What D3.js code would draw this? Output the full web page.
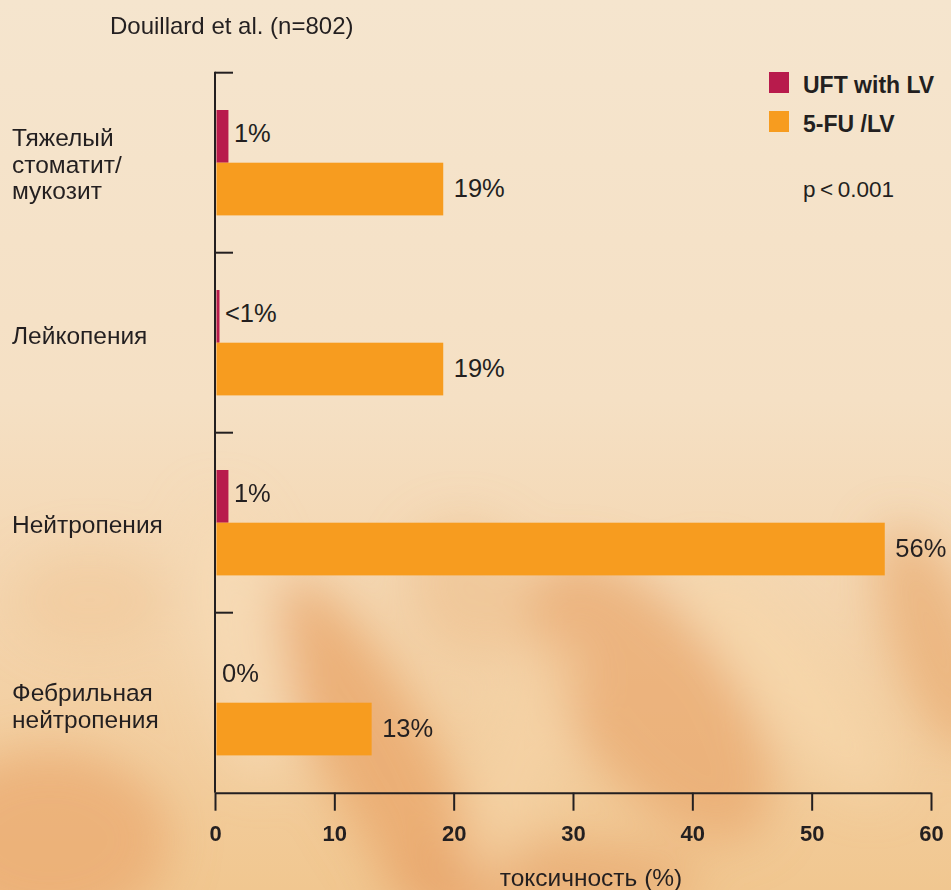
<!DOCTYPE html>
<html>
<head>
<meta charset="utf-8">
<script src="https://cdn.jsdelivr.net/npm/d3@7"></script>
<style>
  body { margin: 0; padding: 0; overflow: hidden; }
  svg { display: block; font-family: "Liberation Sans", Arial, sans-serif; }
</style>
</head>
<body>
<div id="chart"></div>
<script>
const width = 951, height = 890;

// data
const categories = ["Тяжелый стоматит/ мукозит", "Лейкопения", "Нейтропения", "Фебрильная нейтропения"];
const categoryLines = [["Тяжелый", "стоматит/", "мукозит"], ["Лейкопения"], ["Нейтропения"], ["Фебрильная", "нейтропения"]];
const seriesNames = ["UFT with LV", "5-FU /LV"];
const uftValues = [1, 0.25, 1, 0];
const uftLabels = ["1%", "<1%", "1%", "0%"];
const fuValues = [19, 19, 56, 13];
const fuLabels = ["19%", "19%", "56%", "13%"];
const xTicks = [0, 10, 20, 30, 40, 50, 60];
const colors = ["#b81b4c", "#f79c1f"];

const margin = { left: 215, right: 20, top: 72.7, bottom: 97.3 };
// the single-line "Лейкопения" sits a little higher in the original
const labelNudge = [0, -9, 0, 2];

let svg = d3.select("#chart")
    .append("svg")
    .attr("width", width)
    .attr("height", height);

// background: warm gradient with blurred streaks
let defs = svg.append("defs");
let bg = defs.append("linearGradient").attr("id", "bg").attr("x1", 0).attr("y1", 0).attr("x2", 0).attr("y2", 1);
bg.append("stop").attr("offset", "0").attr("stop-color", "#f5e5ce");
bg.append("stop").attr("offset", "0.45").attr("stop-color", "#f5e0c4");
bg.append("stop").attr("offset", "0.68").attr("stop-color", "#f4d5ae");
bg.append("stop").attr("offset", "1").attr("stop-color", "#f1c790");
defs.append("filter").attr("id", "blur").attr("x", "-50%").attr("y", "-50%").attr("width", "200%").attr("height", "200%")
    .append("feGaussianBlur").attr("stdDeviation", 24);

svg.append("rect").attr("width", width).attr("height", height).attr("fill", "url(#bg)");

let streaks = svg.append("g").attr("filter", "url(#blur)");
// [cx, cy, rx, ry, angle, colour, opacity]
const streakShapes = [
    [380, 760, 55, 200, -28, "#e8a56a", 0.75],
    [650, 700, 80, 170, -38, "#e8a66c", 0.7],
    [935, 640, 45, 120, -20, "#e8a76c", 0.65],
    [50, 840, 120, 90, 0, "#e9a86e", 0.7],
    [540, 880, 160, 40, 0, "#e6a46a", 0.6],
    [470, 590, 60, 70, -30, "#eebb88", 0.5],
    [90, 600, 80, 50, 0, "#efc595", 0.45],
    [240, 640, 45, 140, -10, "#f6dcb6", 0.7],
    [790, 680, 40, 150, -40, "#f6d7ab", 0.7],
    [520, 760, 40, 130, 20, "#f5d3a6", 0.6]
];
streaks.selectAll("ellipse").data(streakShapes).enter().append("ellipse")
    .attr("transform", d => `translate(${d[0]},${d[1]}) rotate(${d[4]})`)
    .attr("rx", d => d[2]).attr("ry", d => d[3])
    .attr("fill", d => d[5]).attr("opacity", d => d[6]);

let x = d3.scaleLinear()
    .domain([0, 60])
    .range([margin.left, width - margin.right]);

let y = d3.scaleBand()
    .domain(categories)
    .range([margin.top, height - margin.bottom])
    .padding(0);

let ySub = d3.scaleBand()
    .domain(seriesNames)
    .range([0, y.bandwidth()])
    .paddingInner(0)
    .paddingOuter(0.708);

const ink = "#231f20";

// bars
let rows = categories.map((c, i) => ({ cat: c, i: i }));
let groups = svg.selectAll(".grp").data(rows).enter().append("g")
    .attr("class", "grp")
    .attr("transform", d => `translate(0, ${y(d.cat)})`);

groups.append("rect")
    .attr("x", x(0) + 1.5)
    .attr("y", ySub(seriesNames[0]))
    .attr("width", d => Math.max(0, x(uftValues[d.i]) - x(0)))
    .attr("height", ySub.bandwidth())
    .attr("fill", colors[0]);

groups.append("rect")
    .attr("x", x(0) + 1.5)
    .attr("y", ySub(seriesNames[1]))
    .attr("width", d => x(fuValues[d.i]) - x(0))
    .attr("height", ySub.bandwidth())
    .attr("fill", colors[1]);

groups.append("text")
    .attr("x", d => x(uftValues[d.i]) + 7)
    .attr("y", ySub(seriesNames[0]) + ySub.bandwidth() / 2 + 6)
    .style("font-size", "25.5px")
    .attr("fill", ink)
    .text(d => uftLabels[d.i]);

groups.append("text")
    .attr("x", d => x(fuValues[d.i]) + 12)
    .attr("y", ySub(seriesNames[1]) + ySub.bandwidth() / 2 + 8)
    .style("font-size", "25.5px")
    .attr("fill", ink)
    .text(d => fuLabels[d.i]);

// category labels
let catText = svg.selectAll(".cat").data(rows).enter().append("text")
    .attr("class", "cat")
    .style("font-size", "24.5px")
    .attr("fill", ink);
catText.each(function(d) {
    let lines = categoryLines[d.i];
    let mid = y(d.cat) + y.bandwidth() / 2 + labelNudge[d.i];
    d3.select(this).selectAll("tspan").data(lines).enter().append("tspan")
        .attr("x", 12)
        .attr("y", (l, k) => mid + 10 + (k - (lines.length - 1) / 2) * 26.6)
        .text(l => l);
});

// vertical axis with inward ticks at band boundaries
svg.append("line")
    .attr("x1", x(0)).attr("x2", x(0))
    .attr("y1", y.range()[0] - 1).attr("y2", y.range()[1])
    .attr("stroke", ink).attr("stroke-width", 2);
svg.selectAll(".ytick").data(categories).enter().append("line")
    .attr("x1", x(0)).attr("x2", x(0) + 18)
    .attr("y1", d => y(d)).attr("y2", d => y(d))
    .attr("stroke", ink).attr("stroke-width", 2);

// bottom axis
let xAxis = svg.append("g")
    .attr("transform", `translate(0, ${y.range()[1]})`)
    .call(d3.axisBottom(x).tickValues(xTicks).tickSize(18).tickSizeOuter(0).tickFormat(d3.format("d")));
xAxis.select(".domain").attr("stroke", ink).attr("stroke-width", 2);
xAxis.selectAll(".tick line").attr("stroke", ink).attr("stroke-width", 2);
xAxis.selectAll(".tick text")
    .attr("y", 48).attr("dy", null)
    .attr("fill", ink)
    .style("font-family", "'Liberation Sans', Arial, sans-serif")
    .style("font-size", "22px")
    .style("font-weight", "bold");

svg.append("text")
    .attr("x", 591).attr("y", 886)
    .style("text-anchor", "middle")
    .style("font-size", "24.5px")
    .attr("fill", ink)
    .text("токсичность (%)");

// title
svg.append("text")
    .attr("x", 110).attr("y", 34)
    .style("font-size", "24px")
    .attr("fill", ink)
    .text("Douillard et al. (n=802)");

// legend
let legend = svg.selectAll(".leg").data(seriesNames).enter().append("g")
    .attr("class", "leg")
    .attr("transform", (d, i) => `translate(769, ${72 + i * 39})`);
legend.append("rect").attr("width", 20).attr("height", 21).attr("fill", (d, i) => colors[i]);
legend.append("text")
    .attr("x", 34).attr("y", 20.5)
    .style("font-size", "23px")
    .style("font-weight", "bold")
    .attr("fill", ink)
    .text(d => d);

svg.append("text")
    .attr("x", 803).attr("y", 197)
    .style("font-size", "22.5px")
    .attr("fill", ink)
    .text("p\u2009<\u20090.001");
</script>
</body>
</html>
